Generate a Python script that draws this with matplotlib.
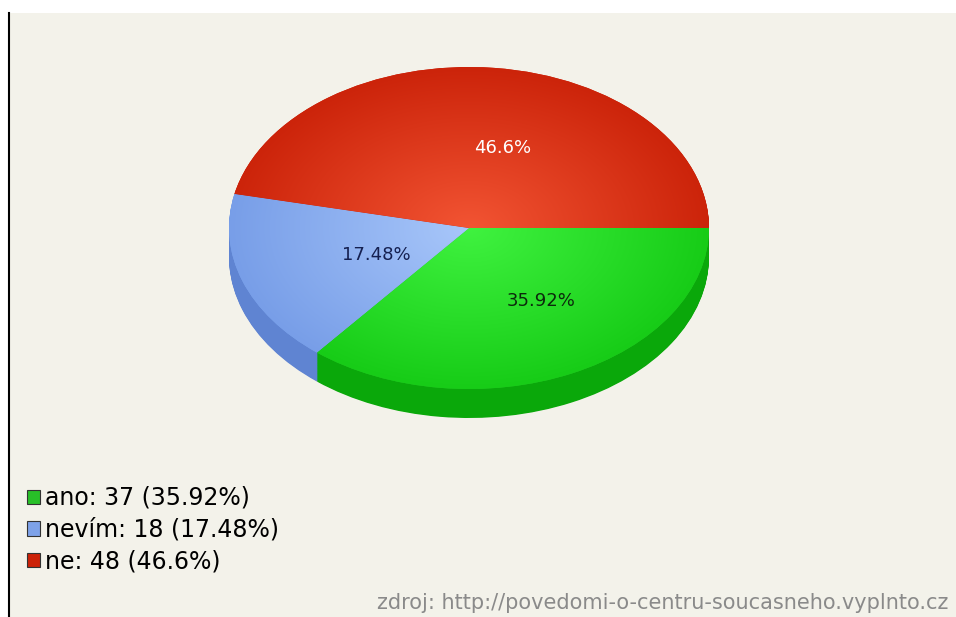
import numpy as np
import matplotlib
matplotlib.use('Agg')
import matplotlib.pyplot as plt
from matplotlib.patches import Patch, Rectangle
from matplotlib.lines import Line2D

# survey answers
answers = ['ano', 'nevím', 'ne']
counts = [37, 18, 48]
source = 'zdroj: http://povedomi-o-centru-soucasneho.vyplnto.cz'

# colours per slice: flat (legend), gradient centre/edge (top face), side wall, label
legend_colors = ['#28c028', '#7ea2e8', '#cc2208']
center_colors = [(0.25, 0.95, 0.25), (0.66, 0.78, 0.98), (0.95, 0.33, 0.20)]
edge_colors = [(0.09, 0.80, 0.09), (0.47, 0.62, 0.91), (0.80, 0.14, 0.04)]
side_colors = ['#0aa80a', '#5f84d2', '#a81a05']
label_colors = ['#0c2a0c', '#152050', '#ffffff']

W, H = 956, 617
fig = plt.figure(figsize=(W / 100, H / 100), dpi=100)
fig.patch.set_facecolor('white')

# beige panel with black rule on the left
fig.patches.append(Rectangle((10 / W, 0), 1, (H - 13) / H, transform=fig.transFigure,
                             facecolor='#f3f2ea', edgecolor='none', zorder=-1))
fig.add_artist(Line2D([9 / W, 9 / W], [0, (H - 13) / H], color='black', lw=1.5))

# pie placement in pixels: centre, half-width, half-height, thickness
cx, cy, a, b, depth = 469, 228, 240, 161, 29
xl = (-1.05, 1.05)
yl = (-1.3, 1.05)
ax = fig.add_axes([(cx + xl[0] * a) / W, (H - (cy - yl[0] * b)) / H,
                   (xl[1] - xl[0]) * a / W, (yl[1] - yl[0]) * b / H])
ax.patch.set_visible(False)

# side wall: stack of darker pies shifted down
d = depth / b
nlayers = 40
for k in range(nlayers, 0, -1):
    ax.pie(counts, colors=side_colors, startangle=0, counterclock=False,
           center=(0, -d * k / nlayers), wedgeprops=dict(linewidth=0))

# top face
wedges, texts, autotexts = ax.pie(counts, colors=legend_colors, startangle=0, counterclock=False,
                                  autopct=lambda p: f'{round(p, 2):g}%', pctdistance=0.5,
                                  wedgeprops=dict(linewidth=0), textprops=dict(fontsize=13))

# radial shading clipped to each wedge
yy, xx = np.mgrid[1:-1:400j, -1:1:400j]
r = np.clip(np.hypot(xx, yy), 0, 1)[..., None]
for w, c0, c1 in zip(wedges, center_colors, edge_colors):
    img = np.array(c0) * (1 - r) + np.array(c1) * r
    im = ax.imshow(img, extent=(-1, 1, -1, 1), origin='upper', interpolation='bilinear', zorder=1.5)
    im.set_clip_path(w)

for t, c in zip(autotexts, label_colors):
    x, y = t.get_position()
    t.set_position((x + 0.085, y))
    t.set_color(c)
    t.set_zorder(3)

ax.set_aspect('auto')
ax.set_xlim(xl)
ax.set_ylim(yl)
ax.axis('off')

# legend
total = sum(counts)
labels = [f'{n}: {c} ({round(c / total * 100, 2):g}%)' for n, c in zip(answers, counts)]
handles = [Patch(facecolor=c, edgecolor='#333333', linewidth=0.8) for c in legend_colors]
fig.legend(handles, labels, loc='upper left', bbox_to_anchor=(27 / W, (H - 486) / H),
           frameon=False, fontsize=17, handlelength=0.55, handleheight=0.55,
           handletextpad=0.2, labelspacing=0.33, borderpad=0, borderaxespad=0)

fig.text(948 / W, (H - 609) / H, source, ha='right', va='baseline', fontsize=15, color='#8a8a8a')

plt.savefig('out.png', dpi=100, facecolor=fig.get_facecolor())
